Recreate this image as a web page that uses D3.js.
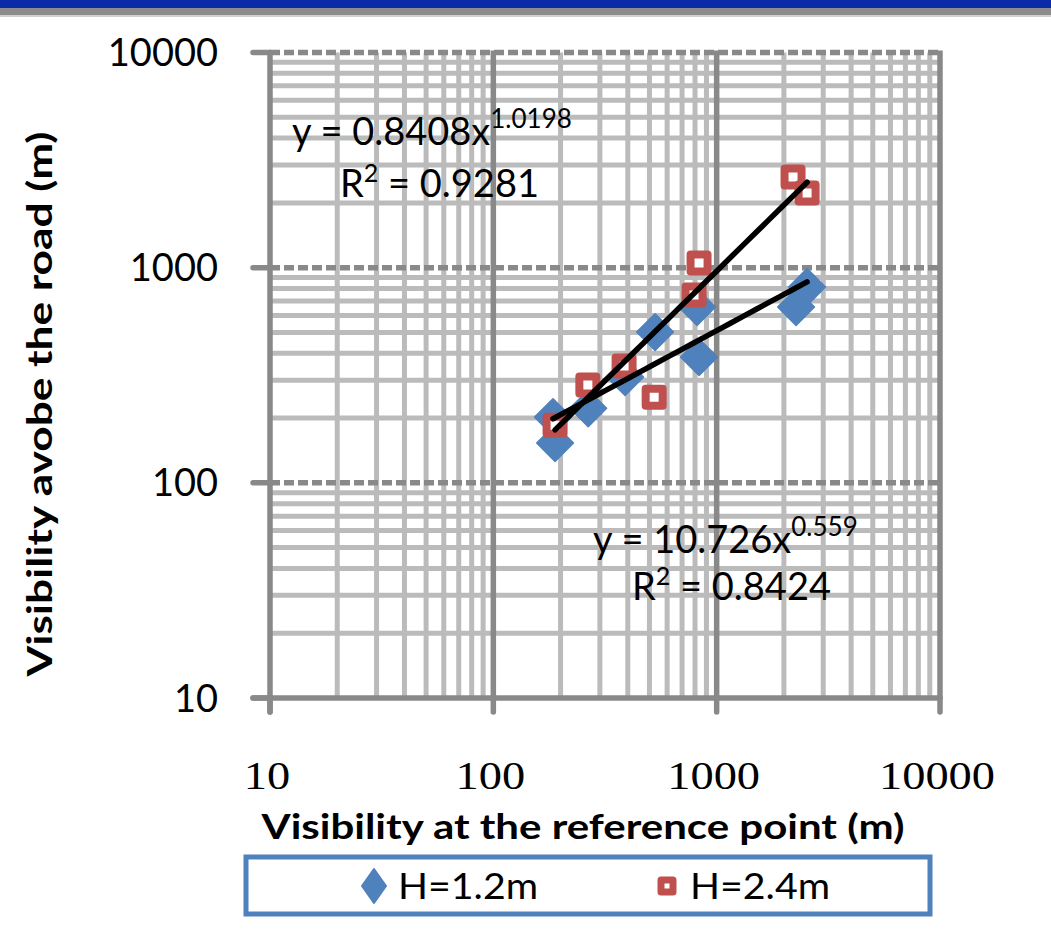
<!DOCTYPE html>
<html lang="en">
<head>
  <meta charset="UTF-8">
  <script src="https://d3js.org/d3.v7.min.js"></script>
  <title>Visibility scatter</title>
  <style>
    body {
      margin: 0;
      background: #fff;
      overflow: hidden;
    }
    .sans {
      font-family: Lato, "Open Sans", sans-serif;
      fill: #000;
    }
    .serif {
      font-family: "Liberation Serif", "DejaVu Serif", serif;
      fill: #000;
    }
  </style>
</head>
<body>
<script>
  // Data (log-log axes)
  const h12X = [189, 185, 266, 389, 530, 817, 834, 2268, 2540];
  const h12Y = [153, 202, 222, 310, 502, 656, 384, 656, 813];
  const h24X = [189, 265, 385, 525, 792, 834, 2198, 2540];
  const h24Y = [185, 285, 349, 250, 747, 1052, 2642, 2225];

  // Power trend lines as printed on the chart
  const fitNames = ["H=1.2m", "H=2.4m"];
  const fitA = [10.726, 0.8408];
  const fitB = [0.559, 1.0198];
  const fitA_text = ["10.726", "0.8408"];
  const fitB_text = ["0.559", "1.0198"];
  const fitR2_text = ["0.8424", "0.9281"];

  const tickValues = [10, 100, 1000, 10000];
  const seriesColors = ["#4F81BD", "#C0504D"];

  const width = 1051, height = 938;
  const svg = d3.select("body").append("svg")
    .attr("width", width)
    .attr("height", height);

  // Top banner strip
  svg.append("rect").attr("x", 0).attr("y", 0).attr("width", width).attr("height", 8).attr("fill", "#0B2AA8");
  svg.append("rect").attr("x", 0).attr("y", 8).attr("width", width).attr("height", 7).attr("fill", "#8C8C8C");
  svg.append("rect").attr("x", 0).attr("y", 15).attr("width", width).attr("height", 2).attr("fill", "#D0D0D0");

  const x = d3.scaleLog().domain([10, 10000]).range([270, 940]);
  const y = d3.scaleLog().domain([10, 10000]).range([698, 52.5]);

  // minor grid values 2..9 per decade
  const minor = [];
  [10, 100, 1000].forEach(d => { for (let k = 2; k <= 9; k++) minor.push(d * k); });

  const grid = svg.append("g");
  grid.selectAll(".vminor").data(minor).enter().append("line")
    .attr("x1", d => x(d)).attr("x2", d => x(d))
    .attr("y1", y(10000)).attr("y2", y(10))
    .attr("stroke", "#BBBBBB").attr("stroke-width", 5);
  grid.selectAll(".hminor").data(minor).enter().append("line")
    .attr("y1", d => y(d)).attr("y2", d => y(d))
    .attr("x1", x(10)).attr("x2", x(10000))
    .attr("stroke", "#BBBBBB").attr("stroke-width", 5);

  // major vertical gridlines: solid
  grid.selectAll(".vmajor").data(tickValues.slice(1)).enter().append("line")
    .attr("x1", d => x(d)).attr("x2", d => x(d))
    .attr("y1", y(10000) - 2).attr("y2", y(10))
    .attr("stroke", "#898989").attr("stroke-width", 5.5);
  // major horizontal gridlines: dashed
  grid.selectAll(".hmajor").data(tickValues.slice(1)).enter().append("line")
    .attr("y1", d => y(d)).attr("y2", d => y(d))
    .attr("x1", x(10)).attr("x2", x(10000) + 2)
    .attr("stroke", "#898989").attr("stroke-width", 5.5)
    .attr("stroke-dasharray", "10,4");

  // axes lines and ticks
  const axes = svg.append("g").attr("stroke", "#898989").attr("stroke-width", 5.5).attr("stroke-linecap", "round");
  axes.append("line").attr("x1", x(10)).attr("x2", x(10)).attr("y1", y(10000)).attr("y2", y(10) + 14);
  axes.append("line").attr("x1", x(10) - 17).attr("x2", x(10000)).attr("y1", y(10)).attr("y2", y(10));
  axes.selectAll(".yt").data(tickValues).enter().append("line")
    .attr("x1", x(10) - 17).attr("x2", x(10)).attr("y1", d => y(d)).attr("y2", d => y(d));
  axes.selectAll(".xt").data(tickValues).enter().append("line")
    .attr("x1", d => x(d)).attr("x2", d => x(d)).attr("y1", y(10)).attr("y2", y(10) + 14);

  // y tick labels
  svg.selectAll(".ylab").data(tickValues).enter().append("text")
    .attr("class", "sans")
    .attr("x", 218).attr("y", d => y(d) + 13.5)
    .attr("text-anchor", "end")
    .attr("font-size", 38)
    .text(d => d);

  // x tick labels (serif, slightly stretched)
  svg.selectAll(".xlab").data(tickValues).enter().append("text")
    .attr("class", "serif")
    .attr("transform", d => `translate(${x(d) - 3},789) scale(1.16,1)`)
    .attr("text-anchor", "middle")
    .attr("font-size", 40)
    .text(d => d);

  // axis titles
  svg.append("text").attr("class", "sans")
    .attr("x", 583).attr("y", 839)
    .attr("text-anchor", "middle")
    .attr("font-size", 35).attr("font-weight", "bold")
    .attr("textLength", 643).attr("lengthAdjust", "spacingAndGlyphs")
    .text("Visibility at the reference point (m)");
  svg.append("text").attr("class", "sans")
    .attr("transform", "translate(52,404) rotate(-90)")
    .attr("text-anchor", "middle")
    .attr("font-size", 35).attr("font-weight", "bold")
    .attr("textLength", 545).attr("lengthAdjust", "spacingAndGlyphs")
    .text("Visibility avobe the road (m)");

  // markers
  const diamond = d3.symbol().type(d3.symbolSquare).size(26 * 26);
  const square = d3.symbol().type(d3.symbolSquare).size(17 * 17);

  svg.append("g").selectAll("path").data(d3.zip(h12X, h12Y)).enter().append("path")
    .attr("d", diamond)
    .attr("transform", d => `translate(${x(d[0])},${y(d[1])}) rotate(45)`)
    .attr("fill", seriesColors[0])
    .attr("stroke", seriesColors[0]).attr("stroke-width", 1.5).attr("stroke-linejoin", "round");

  svg.append("g").selectAll("path").data(d3.zip(h24X, h24Y)).enter().append("path")
    .attr("d", square)
    .attr("transform", d => `translate(${x(d[0])},${y(d[1])})`)
    .attr("fill", "#fff")
    .attr("stroke", seriesColors[1]).attr("stroke-width", 8).attr("stroke-linejoin", "round");

  // trend lines
  const line = d3.line().x(d => x(d[0])).y(d => y(d[1]));
  [h12X, h24X].forEach((xs, i) => {
    const lo = d3.min(xs), hi = d3.max(xs);
    const pts = d3.range(0, 21).map(k => {
      const v = lo * Math.pow(hi / lo, k / 20);
      return [v, fitA[i] * Math.pow(v, fitB[i])];
    });
    svg.append("path")
      .attr("d", line(pts))
      .attr("fill", "none")
      .attr("stroke", "#000")
      .attr("stroke-width", 5.5)
      .attr("stroke-linecap", "round");
  });

  // equation labels
  const eqPos = [[593, 553, 632, 600], [292, 145, 340, 197]];
  eqPos.forEach((p, i) => {
    const t = svg.append("text").attr("class", "sans").attr("x", p[0]).attr("y", p[1]).attr("font-size", 38);
    t.append("tspan").text(`y = ${fitA_text[i]}x`);
    t.append("tspan").attr("font-size", 26).attr("dy", -17).text(fitB_text[i]);
    const r = svg.append("text").attr("class", "sans").attr("x", p[2]).attr("y", p[3]).attr("font-size", 38);
    r.append("tspan").text("R");
    r.append("tspan").attr("font-size", 25).attr("dy", -15).text("2");
    r.append("tspan").attr("dy", 15).text(` = ${fitR2_text[i]}`);
  });

  // legend
  const lg = svg.append("g");
  lg.append("rect")
    .attr("x", 246).attr("y", 857).attr("width", 684).attr("height", 57)
    .attr("fill", "#fff").attr("stroke", "#4F81BD").attr("stroke-width", 5);
  lg.append("path")
    .attr("d", "M0,-17 L12,0 L0,17 L-12,0 Z")
    .attr("transform", "translate(374,886)")
    .attr("fill", seriesColors[0]).attr("stroke", seriesColors[0]).attr("stroke-width", 2).attr("stroke-linejoin", "round");
  lg.append("path")
    .attr("d", d3.symbol().type(d3.symbolSquare).size(12 * 12)())
    .attr("transform", "translate(667,886)")
    .attr("fill", "#fff").attr("stroke", seriesColors[1]).attr("stroke-width", 7).attr("stroke-linejoin", "round");
  lg.selectAll(".lt").data(fitNames).enter().append("text")
    .attr("class", "sans")
    .attr("x", (d, i) => i === 0 ? 398 : 690)
    .attr("y", 899)
    .attr("font-size", 37)
    .attr("textLength", 140).attr("lengthAdjust", "spacingAndGlyphs")
    .text(d => d);
</script>
</body>
</html>
